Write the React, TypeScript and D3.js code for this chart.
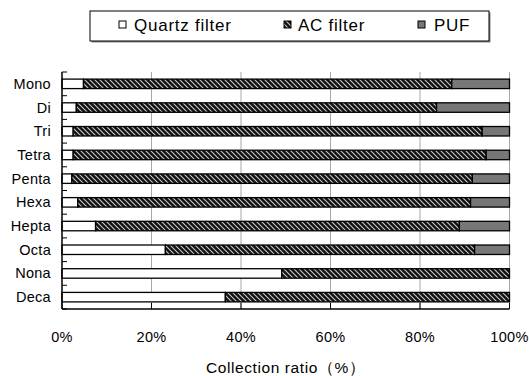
import React from "react";
import * as d3 from "d3";

const categories = ["Mono", "Di", "Tri", "Tetra", "Penta", "Hexa", "Hepta", "Octa", "Nona", "Deca"];
const seriesNames = ["Quartz filter", "AC filter", "PUF"];
const quartz = [4.8, 3.2, 2.5, 2.5, 2.2, 3.5, 7.5, 23.1, 49.1, 36.5];
const acFilter = [82.3, 80.5, 91.4, 92.3, 89.5, 87.8, 81.3, 69.1, 50.9, 63.5];
const puf = [12.9, 16.3, 6.1, 5.2, 8.3, 8.7, 11.2, 7.8, 0, 0];
const xTicks = [0, 20, 40, 60, 80, 100];
const xTickLabels = ["0%", "20%", "40%", "60%", "80%", "100%"];
const axisTitle = "Collection ratio（%）";

const W = 529;
const H = 376;
const left = 62;
const right = 509.5;
const top = 72;
const bottom = 309;

const FONT = "'Liberation Sans', Arial, sans-serif";

export default function App() {
  const rows = categories.map((c, i) => ({ cat: c, q: quartz[i], ac: acFilter[i], puf: puf[i] }));
  const stack = d3.stack<any>().keys(["q", "ac", "puf"]);
  const stacked = stack(rows);
  const x = d3.scaleLinear().domain([0, 100]).range([left, right]);
  const y = d3.scaleBand().domain(categories).range([top, bottom]).paddingInner(0.6).paddingOuter(0.3);
  const step = y.step();
  const fills = ["#ffffff", "url(#hatch)", "#777777"];
  const boundaries = d3.range(categories.length + 1).map((i) => top + i * step);

  const legendItems = [
    { name: seriesNames[0], sx: 119, tx: 134 },
    { name: seriesNames[1], sx: 284, tx: 298 },
    { name: seriesNames[2], sx: 418, tx: 434 },
  ];

  return (
    <svg width={W} height={H} style={{ position: "absolute", left: 0, top: 0, background: "#fff" }}>
      <defs>
        <pattern id="hatch" patternUnits="userSpaceOnUse" width={5} height={5}>
          <rect width={5} height={5} fill="#111" />
          <path d="M0,0 L5,5 M-1,4 L1,6 M4,-1 L6,1" stroke="#c8c8c8" strokeWidth={1.1} />
        </pattern>
      </defs>
      <rect width={W} height={H} fill="#fff" />

      {/* legend */}
      <rect x={91.5} y={12.5} width={399} height={30} fill="#888" />
      <rect x={90} y={11} width={399} height={30} fill="#fff" stroke="#000" strokeWidth={1} />
      {legendItems.map((it, i) => (
        <g key={it.name}>
          <rect x={it.sx} y={21} width={7} height={7} fill={fills[i]} stroke="#000" strokeWidth={1} />
          <text x={it.tx} y={31} fontFamily={FONT} fontSize={17} letterSpacing={0.75} fill="#000">{it.name}</text>
        </g>
      ))}

      {/* gridlines */}
      {xTicks.filter((t) => t > 0).map((t) => (
        <line key={"g" + t} x1={x(t)} x2={x(t)} y1={top} y2={bottom} stroke="#a8a8a8" strokeWidth={1} />
      ))}

      {/* bars */}
      {stacked.map((s, si) =>
        s.map((d: any, i: number) => {
          const w = x(d[1]) - x(d[0]);
          if (w <= 0) return null;
          return (
            <rect
              key={si + "-" + i}
              x={x(d[0])}
              y={y(categories[i])}
              width={w}
              height={y.bandwidth()}
              fill={fills[si]}
              stroke="#000"
              strokeWidth={1.3}
            />
          );
        })
      )}

      {/* y axis */}
      <line x1={left} x2={left} y1={top} y2={bottom} stroke="#000" strokeWidth={1.5} />
      {boundaries.map((b, i) => (
        <line key={"yt" + i} x1={left} x2={left + 5} y1={b} y2={b} stroke="#000" strokeWidth={1} />
      ))}
      {categories.map((c) => (
        <text key={c} x={51} y={(y(c) as number) + y.bandwidth() / 2 + 5} textAnchor="end" fontFamily={FONT} fontSize={14.5} letterSpacing={0.3} fill="#000">
          {c}
        </text>
      ))}

      {/* x axis */}
      <line x1={left} x2={right} y1={bottom} y2={bottom} stroke="#000" strokeWidth={1.5} />
      {xTicks.map((t) => (
        <line key={"xt" + t} x1={x(t)} x2={x(t)} y1={bottom - 6} y2={bottom} stroke="#000" strokeWidth={1} />
      ))}
      {xTicks.map((t, i) => (
        <text key={"xl" + t} x={x(t)} y={341.5} textAnchor="middle" fontFamily={FONT} fontSize={14.5} letterSpacing={0.3} fill="#000">
          {xTickLabels[i]}
        </text>
      ))}
      <text x={(left + right) / 2} y={373} textAnchor="middle" fontFamily={FONT} fontSize={15.5} letterSpacing={0.6} fill="#000">
        {axisTitle}
      </text>
    </svg>
  );
}
